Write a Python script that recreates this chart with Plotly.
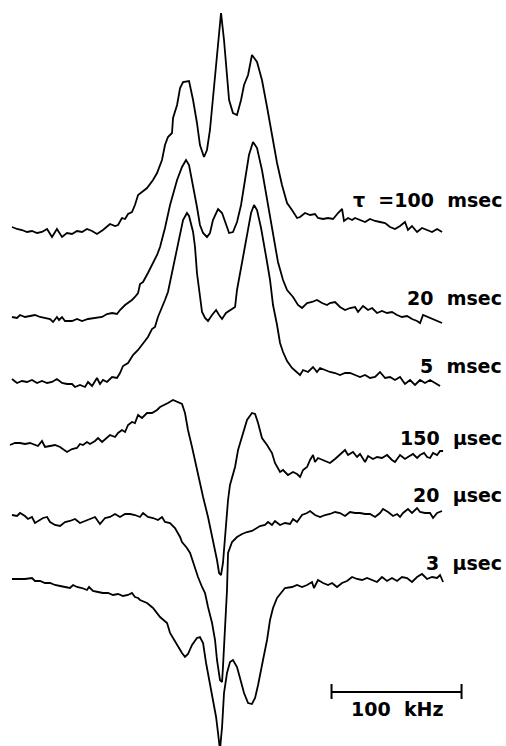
import plotly.graph_objects as go

# Frequency offset (kHz) and signal (a.u.)
tau_100ms = [(-160.8,3),(-156.9,1),(-153.1,0),(-149.2,-2),(-145.4,-1),(-141.5,-3),(-137.7,-2),(-133.8,1),(-130.0,-7),(-126.2,1),(-122.3,-7),(-118.5,-3),(-114.6,-4),(-110.8,-1),(-106.9,-2),(-103.1,1),(-99.2,-1),(-95.4,-4),(-90.8,0),(-85.4,6),(-81.5,4),(-79.2,5),(-76.2,12),(-73.8,11),(-71.5,16),(-68.5,18),(-66.2,25),(-63.8,35),(-60.8,38),(-56.9,42),(-52.3,50),(-49.2,57),(-45.4,70),(-43.1,85),(-40.8,93),(-37.7,97),(-36.9,112),(-33.8,125),(-31.5,142),(-29.2,148),(-24.6,149),(-21.5,130),(-18.5,107),(-16.2,85),(-13.1,73),(-10.8,80),(-8.5,100),(-6.2,130),(-3.1,175),(0.0,217),(2.3,190),(4.6,150),(6.2,130),(9.2,117),(12.3,115),(15.4,130),(17.7,145),(20.8,155),(23.8,175),(27.7,168),(31.5,150),(35.4,123),(39.2,95),(43.1,67),(46.9,45),(50.8,27),(54.6,20),(58.5,12),(60.8,13),(64.6,17),(68.5,15),(72.3,16),(74.6,12),(78.5,11),(82.3,12),(86.2,11),(90.0,17),(93.1,21),(94.6,9),(97.7,12),(100.8,10),(103.1,12),(106.9,10),(110.8,8),(114.6,11),(118.5,9),(122.3,8),(126.2,7),(130.0,3),(133.8,1),(137.7,4),(141.5,8),(143.8,0),(146.9,4),(150.8,-2),(154.6,2),(158.5,0),(162.3,-2),(166.2,1),(170.0,-2)]

tau_20ms = [(-160.8,1),(-156.9,0),(-154.6,3),(-150.8,1),(-146.9,2),(-143.1,3),(-139.2,1),(-135.4,0),(-131.5,-1),(-129.2,-4),(-126.2,1),(-124.6,-2),(-122.3,1),(-120.0,-3),(-114.6,-3),(-110.8,-1),(-106.9,-3),(-102.3,-1),(-96.9,0),(-91.5,1),(-87.7,4),(-83.8,5),(-80.0,4),(-77.7,8),(-73.8,13),(-71.5,15),(-68.5,18),(-66.2,21),(-63.8,25),(-62.3,34),(-60.0,36),(-56.2,45),(-52.3,55),(-49.2,63),(-46.9,71),(-43.1,90),(-39.2,113),(-33.8,138),(-30.0,151),(-26.9,158),(-24.6,153),(-21.5,133),(-18.5,111),(-16.2,93),(-13.8,85),(-10.8,81),(-8.5,85),(-6.2,98),(-2.3,109),(0.8,105),(3.1,96),(6.2,85),(9.2,86),(12.3,96),(15.4,113),(18.5,138),(21.5,163),(24.6,176),(27.7,170),(31.5,148),(35.4,118),(39.2,88),(41.5,73),(43.8,56),(47.7,38),(50.8,28),(55.4,21),(59.2,13),(62.3,10),(66.2,15),(70.0,16),(73.8,18),(77.7,15),(81.5,13),(83.8,15),(87.7,16),(91.5,11),(95.4,8),(99.2,10),(103.1,11),(105.4,6),(109.2,12),(113.1,8),(116.2,10),(120.0,5),(123.8,7),(127.7,5),(131.5,6),(135.4,3),(139.2,1),(143.1,2),(146.9,-1),(150.8,-3),(153.1,-5),(155.4,3),(159.2,1),(163.1,-1),(166.9,-3),(170.0,-5)]

tau_5ms = [(-160.8,4),(-156.9,0),(-153.1,2),(-149.2,1),(-145.4,3),(-141.5,0),(-137.7,2),(-133.8,0),(-130.0,1),(-126.2,4),(-122.3,0),(-118.5,-1),(-114.6,-1),(-112.3,-4),(-108.5,-2),(-104.6,-4),(-102.3,1),(-99.2,-3),(-95.4,5),(-93.1,-1),(-90.8,3),(-87.7,1),(-83.8,6),(-80.0,5),(-77.7,10),(-75.4,17),(-71.5,20),(-67.7,28),(-63.8,33),(-60.0,39),(-56.2,46),(-53.1,54),(-50.8,56),(-48.5,66),(-45.4,75),(-43.1,83),(-40.8,91),(-39.2,101),(-36.9,115),(-33.8,135),(-31.5,151),(-29.2,163),(-26.2,170),(-24.6,167),(-21.5,151),(-20.0,136),(-18.5,110),(-16.2,83),(-14.6,71),(-12.3,65),(-10.0,62),(-6.9,68),(-3.8,73),(-1.5,68),(0.8,64),(3.8,70),(7.7,73),(10.8,76),(12.3,93),(15.4,115),(17.7,133),(20.0,148),(23.1,170),(25.4,178),(27.7,173),(30.8,155),(33.1,136),(35.4,121),(37.7,103),(40.0,78),(43.1,58),(45.4,40),(47.7,31),(50.8,22),(54.6,15),(58.5,11),(60.8,8),(63.1,13),(66.9,11),(70.8,16),(73.8,11),(76.2,15),(80.0,13),(83.8,11),(87.7,10),(91.5,8),(95.4,10),(99.2,10),(103.1,8),(106.9,6),(110.8,8),(114.6,5),(118.5,6),(122.3,11),(126.2,5),(130.0,6),(133.8,3),(137.7,6),(141.5,-1),(145.4,3),(149.2,-2),(153.1,3),(156.9,0),(160.8,3),(164.6,0),(168.5,-3)]

tau_150us = [(-162.3,1),(-158.5,3),(-154.6,3),(-150.8,2),(-146.9,3),(-143.1,1),(-140.8,0),(-137.7,5),(-135.4,-1),(-131.5,0),(-127.7,1),(-123.8,-1),(-118.5,-6),(-114.6,-3),(-110.8,-2),(-108.5,2),(-106.2,1),(-103.1,4),(-100.8,2),(-96.9,5),(-94.6,8),(-91.5,4),(-87.7,8),(-85.4,11),(-81.5,9),(-79.2,13),(-76.2,16),(-73.8,14),(-71.5,21),(-68.5,24),(-66.2,23),(-63.8,31),(-60.8,28),(-56.9,33),(-53.1,33),(-49.2,36),(-46.9,39),(-43.1,41),(-40.8,43),(-36.9,46),(-33.8,44),(-30.0,42),(-27.7,33),(-25.4,16),(-22.3,-1),(-18.5,-24),(-16.2,-39),(-13.8,-51),(-10.0,-71),(-6.2,-94),(-3.1,-114),(-1.5,-127),(0.0,-129),(1.5,-117),(3.1,-87),(5.4,-54),(6.9,-39),(8.5,-32),(10.8,-21),(13.1,-4),(16.9,14),(20.0,26),(23.8,33),(26.2,32),(28.5,23),(31.5,8),(35.4,1),(39.2,-7),(41.5,-17),(43.8,-22),(45.4,-26),(47.7,-24),(51.5,-29),(55.4,-26),(58.5,-28),(60.8,-31),(63.1,-24),(66.2,-21),(68.5,-14),(70.8,-9),(72.3,-16),(74.6,-12),(78.5,-14),(83.8,-17),(87.7,-13),(91.5,-9),(95.4,-4),(97.7,-9),(101.5,-6),(104.6,-11),(106.9,-8),(110.8,-16),(113.1,-10),(116.9,-13),(120.0,-11),(123.8,-12),(127.7,-9),(131.5,-14),(133.8,-16),(137.7,-9),(141.5,-13),(143.8,-11),(147.7,-8),(150.8,-12),(153.1,-9),(156.2,-7),(158.5,-11),(160.8,-12),(163.1,-7),(166.2,-9),(168.5,-5),(170.8,-5)]

tau_20us = [(-160.8,1),(-156.9,0),(-154.6,3),(-150.8,0),(-148.5,-3),(-145.4,-1),(-143.1,-7),(-139.2,-4),(-136.9,-2),(-133.8,-1),(-131.5,-6),(-127.7,-9),(-123.8,-10),(-120.0,-6),(-116.2,-5),(-112.3,-3),(-108.5,-7),(-104.6,-5),(-100.8,-3),(-96.9,-1),(-93.1,-8),(-89.2,-2),(-85.4,-1),(-81.5,2),(-77.7,-1),(-73.8,2),(-70.0,2),(-66.2,1),(-62.3,-1),(-60.0,3),(-56.2,-1),(-52.3,-2),(-48.5,-4),(-45.4,-1),(-43.1,-6),(-39.2,-7),(-35.4,-12),(-31.5,-21),(-30.0,-26),(-26.2,-32),(-23.8,-37),(-21.5,-47),(-17.7,-61),(-14.6,-71),(-12.3,-77),(-10.0,-91),(-6.9,-107),(-4.6,-124),(-3.1,-144),(-0.8,-164),(0.8,-166),(1.5,-151),(3.1,-114),(4.6,-74),(5.4,-37),(8.5,-26),(12.3,-21),(16.2,-18),(20.0,-16),(23.8,-15),(30.0,-10),(33.8,-9),(36.2,-6),(39.2,-9),(41.5,-5),(45.4,-9),(49.2,-7),(53.1,-8),(55.4,-3),(58.5,-6),(62.3,1),(66.2,3),(68.5,5),(72.3,1),(76.2,-1),(80.0,1),(83.8,2),(87.7,4),(91.5,3),(95.4,0),(99.2,4),(103.1,3),(106.9,3),(110.8,2),(114.6,2),(118.5,-1),(122.3,3),(124.6,7),(128.5,4),(132.3,0),(135.4,2),(137.7,-1),(140.0,3),(143.8,7),(146.9,3),(150.8,8),(153.1,4),(156.9,3),(160.8,3),(163.1,-2),(166.2,3),(170.0,5)]

tau_3us = [(-160.8,0),(-156.2,0),(-150.8,0),(-145.4,1),(-143.1,-2),(-139.2,-2),(-135.4,-4),(-131.5,-4),(-127.7,-6),(-123.8,-7),(-120.0,-8),(-116.2,-9),(-113.8,-6),(-110.8,-8),(-106.9,-9),(-103.1,-11),(-101.5,-8),(-98.5,-12),(-94.6,-13),(-90.8,-14),(-86.9,-14),(-83.1,-16),(-79.2,-15),(-75.4,-17),(-71.5,-16),(-68.5,-14),(-66.2,-18),(-63.8,-19),(-62.3,-21),(-56.9,-24),(-52.3,-29),(-46.9,-38),(-41.5,-44),(-39.2,-54),(-36.9,-59),(-33.8,-66),(-30.0,-74),(-27.7,-78),(-25.4,-75),(-22.3,-66),(-18.5,-59),(-16.2,-58),(-13.8,-64),(-11.5,-84),(-9.2,-101),(-6.2,-121),(-3.8,-138),(-2.3,-154),(-0.8,-171),(0.8,-148),(2.3,-114),(4.6,-94),(6.9,-83),(9.2,-81),(12.3,-88),(14.6,-99),(17.7,-114),(20.8,-124),(23.8,-125),(26.2,-119),(28.5,-106),(32.3,-81),(35.4,-61),(37.7,-41),(40.0,-29),(43.1,-19),(46.9,-13),(49.2,-9),(54.6,-8),(58.5,-6),(62.3,-8),(66.2,-6),(70.0,-3),(71.5,-9),(74.6,-1),(78.5,-4),(82.3,-6),(85.4,-4),(89.2,-8),(93.1,-4),(96.9,-2),(100.8,2),(104.6,0),(108.5,-1),(112.3,1),(116.2,-1),(120.0,-3),(123.8,2),(127.7,-2),(131.5,1),(135.4,-2),(139.2,2),(143.1,1),(146.9,-3),(150.8,2),(154.6,5),(158.5,0),(162.3,2),(166.2,1),(168.5,4),(170.8,-3)]

spectra = [tau_100ms, tau_20ms, tau_5ms, tau_150us, tau_20us, tau_3us]
labels = ["\u03c4\u00a0\u00a0=100\u00a0\u00a0msec", "20\u00a0\u00a0msec", "5\u00a0\u00a0msec",
          "150\u00a0\u00a0\u00b5sec", "20\u00a0\u00a0\u00b5sec", "3\u00a0\u00a0\u00b5sec"]
scale_khz = 100

# layout (stacking offsets and label placement)
offsets = [516, 428, 363, 300, 230, 167]
label_dy = [30, 20, 17, 8, 21, 16]

fig = go.Figure()
for pts, off in zip(spectra, offsets):
    xs = [p[0] for p in pts]
    ys = [p[1] + off for p in pts]
    fig.add_trace(go.Scatter(x=xs, y=ys, mode="lines",
                             line=dict(color="black", width=1.8),
                             showlegend=False, hoverinfo="skip"))

font = dict(family="DejaVu Sans", size=19, color="black")
for lab, off, dy in zip(labels, offsets, label_dy):
    fig.add_annotation(x=217.5, y=off + dy, xref="x", yref="y", text="<b>" + lab + "</b>",
                       showarrow=False, xanchor="right", yanchor="middle", font=font)

# scale bar
x0, x1, yb = 85, 85 + scale_khz, 54
fig.add_shape(type="line", x0=x0, x1=x1, y0=yb, y1=yb, line=dict(color="black", width=2))
for xe in (x0, x1):
    fig.add_shape(type="line", x0=xe, x1=xe, y0=yb - 7, y1=yb + 8, line=dict(color="black", width=2))
fig.add_annotation(x=(x0 + x1) / 2 + 1, y=37, xref="x", yref="y",
                   text="<b>%d\u00a0\u00a0kHz</b>" % scale_khz, showarrow=False,
                   xanchor="center", yanchor="middle", font=font)

fig.update_layout(width=506, height=746, margin=dict(l=0, r=0, t=0, b=0),
                  paper_bgcolor="white", plot_bgcolor="white")
fig.update_xaxes(range=[-170, 219.2], visible=False, showgrid=False, zeroline=False)
fig.update_yaxes(range=[0, 746], visible=False, showgrid=False, zeroline=False)

fig.write_html("out.html")
